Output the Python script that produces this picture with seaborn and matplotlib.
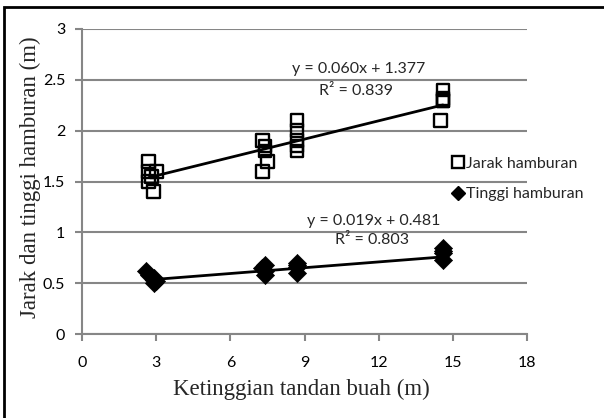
import numpy as np
import pandas as pd
import matplotlib
matplotlib.use("Agg")
import matplotlib.pyplot as plt
import seaborn as sns
from matplotlib.patches import Rectangle
from matplotlib.lines import Line2D

# ---- data ----
jarak_x = [2.7, 2.7, 2.7, 2.9, 3.0, 2.8,
           7.3, 7.4, 7.5, 7.3, 7.4,
           8.7, 8.7, 8.7, 8.7, 8.7,
           14.6, 14.6, 14.6, 14.5, 14.6]
jarak_y = [1.7, 1.6, 1.5, 1.4, 1.6, 1.55,
           1.9, 1.8, 1.7, 1.6, 1.85,
           2.1, 2.0, 1.9, 1.8, 1.85,
           2.4, 2.3, 2.32, 2.1, 2.3]
tinggi_x = [2.6, 2.7, 2.9, 2.9, 3.0,
            7.4, 7.4, 7.4, 7.3,
            8.7, 8.7, 8.7, 8.7,
            14.6, 14.6, 14.6, 14.6]
tinggi_y = [0.62, 0.58, 0.50, 0.55, 0.52,
            0.68, 0.62, 0.58, 0.65,
            0.70, 0.66, 0.60, 0.68,
            0.85, 0.82, 0.80, 0.73]

fit_jarak = (0.060, 1.377)
fit_tinggi = (0.019, 0.481)

series_labels = ["Jarak hamburan", "Tinggi hamburan"]
eq_jarak = ["y = 0.060x + 1.377", "R² = 0.839"]
eq_tinggi = ["y = 0.019x + 0.481", "R² = 0.803"]

x_ticks = [0, 3, 6, 9, 12, 15, 18]
y_ticks = [0, 0.5, 1, 1.5, 2, 2.5, 3]
y_tick_labels = ["0", "0.5", "1", "1.5", "2", "2.5", "3"]
x_label = "Ketinggian tandan buah (m)"
y_label = "Jarak dan tinggi hamburan (m)"

# ---- style ----
sns.set_theme(style="white")
plt.rcParams['font.family'] = ['Lato', 'DejaVu Sans']
GRAY = "#868686"
FS = 11.5

fig = plt.figure(figsize=(6.04, 4.18), dpi=100)
ax = fig.add_axes([82/604, 1-334/418, (527-82)/604, (334-29)/418])

df_j = pd.DataFrame({"x": jarak_x, "y": jarak_y})
df_t = pd.DataFrame({"x": tinggi_x, "y": tinggi_y})

# trend lines from the reference equations, over the data range
def trend(df, coef):
    xs = np.array([df["x"].min(), df["x"].max()])
    return pd.DataFrame({"x": xs, "y": coef[0]*xs + coef[1]})

sns.lineplot(data=trend(df_j, fit_jarak), x="x", y="y", ax=ax, color="black", lw=2, zorder=3)
sns.lineplot(data=trend(df_t, fit_tinggi), x="x", y="y", ax=ax, color="black", lw=2, zorder=3)

sns.scatterplot(data=df_j, x="x", y="y", ax=ax, marker="s", s=85,
                facecolor="none", edgecolor="black", linewidth=1.7, zorder=4)
sns.scatterplot(data=df_t, x="x", y="y", ax=ax, marker="D", s=85,
                color="black", edgecolor="black", linewidth=0.5, zorder=4)

ax.set_xlim(0, 18)
ax.set_ylim(0, 3)
ax.set_xticks(x_ticks)
ax.set_yticks(y_ticks)
ax.set_yticklabels(y_tick_labels)
ax.grid(axis="y", color=GRAY, lw=1.5)
ax.grid(axis="x", visible=False)
ax.set_axisbelow(True)
for s in ["top", "right"]:
    ax.spines[s].set_visible(False)
for s in ["left", "bottom"]:
    ax.spines[s].set_color(GRAY)
    ax.spines[s].set_linewidth(1.5)
ax.tick_params(axis="both", direction="out", length=5, width=1.5, color=GRAY,
               labelsize=FS, labelcolor="black")
ax.tick_params(axis="x", pad=11, bottom=True)
ax.tick_params(axis="y", pad=7, left=True)

ax.set_xlabel(x_label, family="Liberation Serif", fontsize=16.5)
ax.set_ylabel(y_label, family="Liberation Serif", fontsize=16.5)
ax.xaxis.set_label_coords(0.494, -0.148)
ax.yaxis.set_label_coords(-0.092, 0.515)

# equations
ax.text(11.2, 2.61, eq_jarak[0], ha="center", va="center", fontsize=FS)
ax.text(11.08, 2.39, eq_jarak[1], ha="center", va="center", fontsize=FS)
ax.text(11.8, 1.11, eq_tinggi[0], ha="center", va="center", fontsize=FS)
ax.text(11.73, 0.92, eq_tinggi[1], ha="center", va="center", fontsize=FS)

# legend
handles = [Line2D([], [], marker="s", ls="none", mfc="none", mec="black", mew=1.7, ms=8.5),
           Line2D([], [], marker="D", ls="none", color="black", ms=7.5)]
fig.legend(handles, series_labels, loc="center left",
           bbox_to_anchor=(444/604, 1-179/418), frameon=False, fontsize=FS,
           handlelength=0.7, handletextpad=0.2, labelspacing=1.0, borderpad=0)

# outer frame (left and top edges visible)
fig.add_artist(Rectangle((4/604, -0.1), 1.2, 1-7/418+0.1, transform=fig.transFigure,
                         fill=False, edgecolor="black", lw=2))

fig.savefig("out.png", dpi=100)
